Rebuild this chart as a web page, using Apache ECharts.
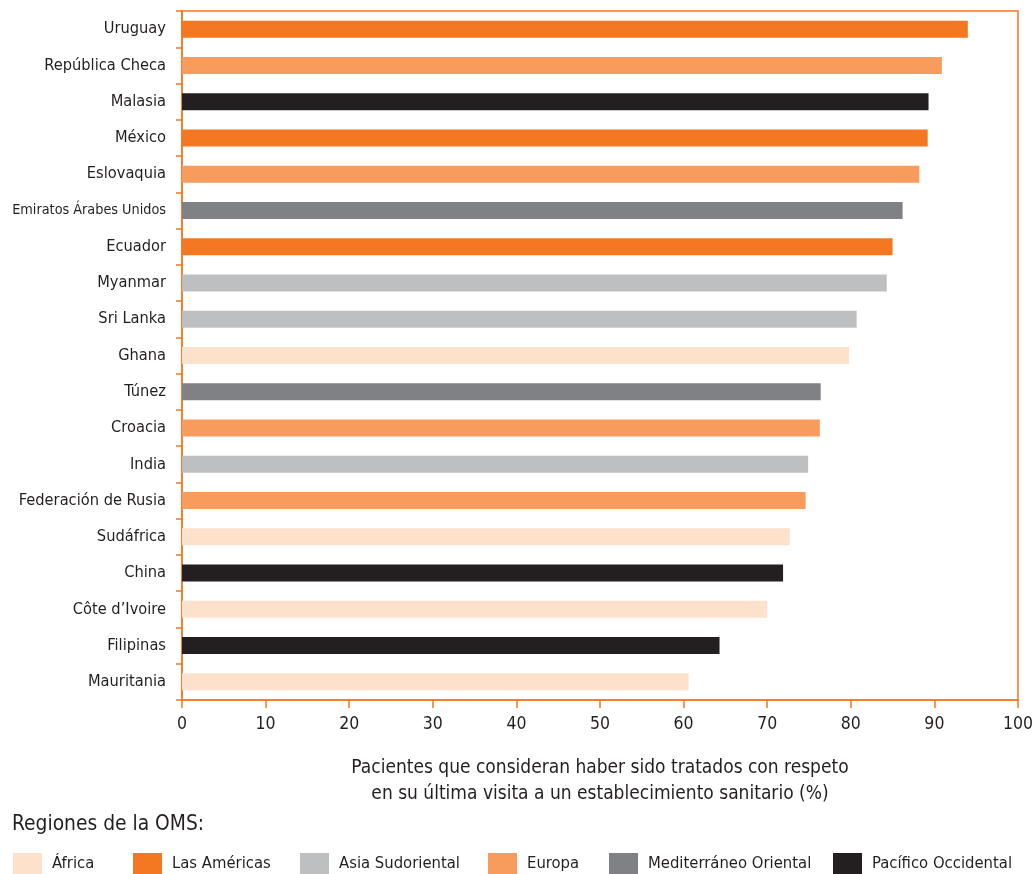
<!DOCTYPE html>
<html>
<head>
<meta charset="utf-8">
<script src="https://cdn.jsdelivr.net/npm/echarts@6/dist/echarts.min.js"></script>
<style>
  html, body { margin: 0; padding: 0; background: #ffffff; }
  #chart { width: 1036px; height: 874px; }
</style>
</head>
<body>
<div id="chart"></div>
<script>
// Countries, top to bottom
const countries = [
  'Uruguay', 'República Checa', 'Malasia', 'México', 'Eslovaquia',
  'Emiratos Árabes Unidos', 'Ecuador', 'Myanmar', 'Sri Lanka', 'Ghana',
  'Túnez', 'Croacia', 'India', 'Federación de Rusia', 'Sudáfrica',
  'China', 'Côte d’Ivoire', 'Filipinas', 'Mauritania'
];

// Share of patients treated with respect (%)
const values = [
  94.0, 90.9, 89.3, 89.2, 88.2,
  86.2, 85.0, 84.3, 80.7, 79.8,
  76.4, 76.3, 74.9, 74.6, 72.7,
  71.9, 70.0, 64.3, 60.6
];

// WHO region of each country
const countryRegion = [
  'Las Américas', 'Europa', 'Pacífico Occidental', 'Las Américas', 'Europa',
  'Mediterráneo Oriental', 'Las Américas', 'Asia Sudoriental', 'Asia Sudoriental', 'África',
  'Mediterráneo Oriental', 'Europa', 'Asia Sudoriental', 'Europa', 'África',
  'Pacífico Occidental', 'África', 'Pacífico Occidental', 'África'
];

const regions = [
  'África', 'Las Américas', 'Asia Sudoriental',
  'Europa', 'Mediterráneo Oriental', 'Pacífico Occidental'
];
const regionColors = ['#FDE1CA', '#F47721', '#BEBFC1', '#F89C5E', '#808184', '#231F20'];

const xTicks = [0, 10, 20, 30, 40, 50, 60, 70, 80, 90, 100];

const FONT = '"DejaVu Sans Condensed", "Liberation Sans Narrow", sans-serif';
const TEXT = '#231F20';
const AXIS = '#F47721';

// one bar series per region, overlapping on the same band
const series = regions.map((r, i) => ({
  name: r,
  type: 'bar',
  barWidth: 17,
  barGap: '-100%',
  itemStyle: { color: regionColors[i] },
  data: values.map((v, k) => countryRegion[k] === r ? v : '-')
}));

// legend items sit at fixed horizontal positions
const legendLeft = [13, 133, 300, 488, 609, 833];
const legends = regions.map((r, i) => ({
  data: [r],
  left: legendLeft[i],
  top: 853,
  padding: 0,
  itemWidth: 29,
  itemHeight: 22,
  icon: 'rect',
  selectedMode: false,
  textStyle: { fontFamily: FONT, fontSize: 16.5, color: TEXT, padding: [2, 0, 0, 5] }
}));

const chart = echarts.init(document.getElementById('chart'), null, { renderer: 'canvas' });
chart.setOption({
  backgroundColor: '#ffffff',
  animation: false,
  title: {
    text: 'Regiones de la OMS:',
    left: 12,
    top: 814,
    padding: 0,
    textStyle: { fontFamily: FONT, fontSize: 20.8, fontWeight: 'normal', color: TEXT }
  },
  legend: legends,
  grid: {
    left: 182, right: 18, top: 11, bottom: 174,
    show: true,
    borderColor: AXIS,
    borderWidth: 1.5,
    backgroundColor: 'transparent'
  },
  xAxis: {
    type: 'value',
    min: xTicks[0],
    max: xTicks[xTicks.length - 1],
    interval: 10,
    name: 'Pacientes que consideran haber sido tratados con respeto\nen su última visita a un establecimiento sanitario (%)',
    nameLocation: 'middle',
    nameGap: 55,
    nameTextStyle: { fontFamily: FONT, fontSize: 19, color: TEXT, lineHeight: 26 },
    axisLine: { show: true, lineStyle: { color: AXIS, width: 1.5 } },
    axisTick: { show: true, length: 8, lineStyle: { color: AXIS, width: 1.5 } },
    axisLabel: { margin: 15, fontFamily: FONT, fontSize: 17.5, color: TEXT },
    splitLine: { show: false }
  },
  yAxis: {
    type: 'category',
    inverse: true,
    data: countries,
    axisLine: { show: true, lineStyle: { color: AXIS, width: 1.5 } },
    axisTick: { show: true, length: 6, lineStyle: { color: AXIS, width: 1.5 } },
    axisLabel: {
      margin: 16,
      fontFamily: FONT,
      fontSize: 16.3,
      color: TEXT,
      formatter: (v) => v.length > 20 ? '{s|' + v + '}' : v,
      rich: { s: { fontFamily: FONT, fontSize: 14.3, color: TEXT } }
    },
    splitLine: { show: false }
  },
  series: series
});
</script>
</body>
</html>
